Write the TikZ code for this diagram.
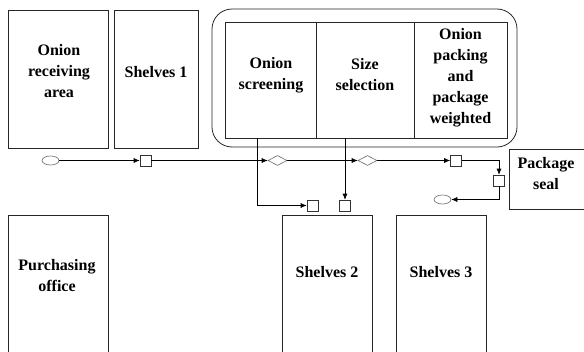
\documentclass[tikz,border=0pt]{standalone}
\usepackage{fontspec}
\setmainfont{Liberation Serif}
\usetikzlibrary{arrows.meta, shapes.geometric, positioning}

\tikzset{
  area/.style={draw=black!85, line width=0.8pt, rectangle, inner sep=0pt},
  lbl/.style={align=center, font=\fontsize{16}{21}\selectfont\bfseries},
  sqbox/.style={draw=black!80, line width=0.6pt, minimum size=11pt, inner sep=0pt},
  gate/.style={diamond, draw=black!60, line width=0.6pt, minimum width=19pt, minimum height=10pt, inner sep=0pt},
  term/.style={ellipse, draw=black!60, line width=0.6pt, minimum width=17pt, minimum height=9pt, inner sep=0pt},
  flow/.style={line width=0.6pt, -{Latex[length=6pt,width=5pt]}},
}

\begin{document}
\begin{tikzpicture}[x=1pt, y=-1pt]
    \path[use as bounding box, clip] (0,0) rectangle (584,351);
    % rooms
    \node[area, minimum width=100pt, minimum height=138pt] (recv)   at ( 58, 79) {};
    \node[area, minimum width=84pt,  minimum height=138pt] (shelf1) at (156, 79) {};
    \node[area, rounded corners=20pt, minimum width=305pt, minimum height=138pt] (line) at (364.5, 78) {};
    \node[area, minimum width=91pt,  minimum height=116pt] (screen) at (270.5, 80) {};
    \node[area, minimum width=98pt,  minimum height=116pt] (size)   at (365, 80) {};
    \node[area, minimum width=93pt,  minimum height=116pt] (pack)   at (460.5, 80) {};
    \node[area, minimum width=77pt,  minimum height=60pt]  (seal)   at (547.5, 179) {};
    \node[area, minimum width=100pt, minimum height=150pt] (purch)  at ( 58, 290) {};
    \node[area, minimum width=90pt,  minimum height=150pt] (shelf2) at (327, 290) {};
    \node[area, minimum width=90pt,  minimum height=150pt] (shelf3) at (441, 290) {};
    % labels
    \node[lbl] (recv-t)   at ( 59, 71)   {Onion\\receiving\\area};
    \node[lbl] (shelf1-t) at (156, 72)   {Shelves 1};
    \node[lbl] (screen-t) at (271, 75)   {Onion\\screening};
    \node[lbl] (size-t)   at (365, 75)   {Size\\selection};
    \node[lbl] (pack-t)   at (460.5, 78) {Onion\\packing\\and\\package\\weighted};
    \node[lbl] (seal-t)   at (546, 173.5) {Package\\seal};
    \node[lbl] (purch-t)  at ( 57, 276)  {Purchasing\\office};
    \node[lbl] (shelf2-t) at (327, 272)  {Shelves 2};
    \node[lbl] (shelf3-t) at (441, 272)  {Shelves 3};
    % flow
    \node[term]  (start) at ( 50.5, 160.5) {};
    \node[sqbox] (s1)    at (145.5, 160.5) {};
    \node[gate]  (g1)    at (277.5, 160.5) {};
    \node[gate]  (g2)    at (367.5, 160.5) {};
    \node[sqbox] (s2)    at (456, 160.5) {};
    \node[sqbox] (s3)    at (499, 180.5) {};
    \node[term]  (stop)  at (442.5, 199.5) {};
    \node[sqbox] (s4)    at (312.5, 205.5) {};
    \node[sqbox] (s5)    at (345, 205.5) {};
    \coordinate (drop) at (257, 138);
    \draw[flow] (start) -- (s1);
    \draw[flow] (s1) -- (g1);
    \draw[flow] (g1) -- (g2);
    \draw[flow] (g2) -- (s2);
    \draw[flow] (s2) -| (s3);
    \draw[flow] (s3) |- (stop);
    \draw[flow] (drop) |- (s4);
    \draw[flow] (size.south -| s5) -- (s5);
\end{tikzpicture}
\end{document}
